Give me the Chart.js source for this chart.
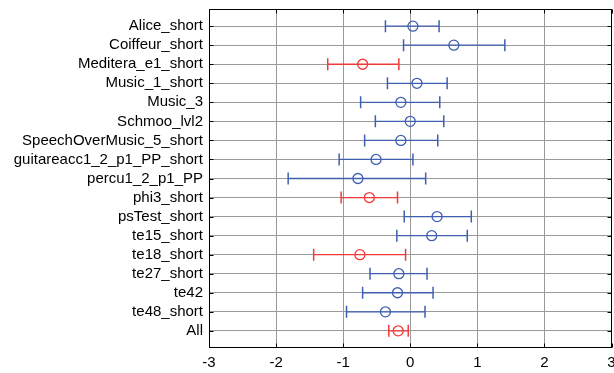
<!DOCTYPE html>
<html>
<head>
<meta charset="utf-8">
<script src="https://cdn.jsdelivr.net/npm/chart.js@4/dist/chart.umd.min.js"></script>
<style>
  html, body { margin: 0; padding: 0; background: #fff; overflow: hidden; }
  #wrap { width: 614px; height: 373px; overflow: hidden; }
</style>
</head>
<body>
<div id="wrap"><canvas id="errChart" width="619" height="373"></canvas></div>
<script>
const labels = ["Alice_short", "Coiffeur_short", "Meditera_e1_short", "Music_1_short", "Music_3",
  "Schmoo_lvl2", "SpeechOverMusic_5_short", "guitareacc1_2_p1_PP_short", "percu1_2_p1_PP",
  "phi3_short", "psTest_short", "te15_short", "te18_short", "te27_short", "te42", "te48_short", "All"];
const means = [0.04, 0.65, -0.71, 0.10, -0.14, 0.00, -0.14, -0.51, -0.78, -0.61, 0.40, 0.32, -0.75, -0.17, -0.19, -0.37, -0.18];
const lower = [-0.37, -0.10, -1.23, -0.34, -0.74, -0.52, -0.68, -1.06, -1.82, -1.03, -0.09, -0.20, -1.44, -0.60, -0.71, -0.95, -0.32];
const upper = [0.43, 1.41, -0.17, 0.55, 0.44, 0.50, 0.41, 0.04, 0.23, -0.19, 0.91, 0.85, -0.07, 0.25, 0.34, 0.22, -0.03];
const flagged = [false, false, true, false, false, false, false, false, false, true, false, false, true, false, false, false, true];
const xTicks = [-3, -2, -1, 0, 1, 2, 3];

const BLUE = "#3f5fb0";
const RED = "#f03a3a";
const FONT = { family: "'Liberation Sans', Arial, sans-serif", size: 15 };

const datasets = [];
labels.forEach((name, i) => {
  const col = flagged[i] ? RED : BLUE;
  // interval line, caps drawn as rotated "line" points
  datasets.push({
    type: "line",
    data: [{ x: lower[i], y: i + 1 }, { x: upper[i], y: i + 1 }],
    borderColor: col,
    borderWidth: 1.3,
    pointStyle: "line",
    rotation: 90,
    pointRadius: 6,
    pointBorderColor: col,
    pointBorderWidth: 1.5,
    fill: false,
  });
  datasets.push({
    type: "scatter",
    data: [{ x: means[i], y: i + 1 }],
    pointStyle: "circle",
    pointRadius: 5,
    pointBorderColor: col,
    pointBackgroundColor: "rgba(0,0,0,0)",
    pointBorderWidth: 1.3,
  });
});

// box with inward ticks, MATLAB style
const boxPlugin = {
  id: "box",
  afterDatasetsDraw(chart) {
    const { ctx, chartArea: a, scales } = chart;
    const L = Math.round(a.left) + 0.5, R = Math.round(a.right) - 0.5;
    const T = Math.round(a.top) + 0.5, B = Math.round(a.bottom) - 0.5;
    ctx.save();
    ctx.strokeStyle = "#000";
    ctx.lineWidth = 1;
    ctx.beginPath();
    scales.y.ticks.forEach((t) => {
      const p = Math.round(scales.y.getPixelForValue(t.value)) + 0.5;
      ctx.moveTo(L, p); ctx.lineTo(L + 4, p);
      ctx.moveTo(R, p); ctx.lineTo(R - 4, p);
    });
    scales.x.ticks.forEach((t) => {
      const p = Math.round(scales.x.getPixelForValue(t.value)) + 0.5;
      ctx.moveTo(p, B); ctx.lineTo(p, B - 4);
      ctx.moveTo(p, T); ctx.lineTo(p, T + 4);
    });
    ctx.stroke();
    ctx.strokeRect(L, T, R - L, B - T);
    ctx.restore();
  },
};

new Chart(document.getElementById("errChart"), {
  data: { datasets: datasets },
  plugins: [boxPlugin],
  options: {
    responsive: false,
    animation: false,
    layout: { padding: { top: 9, right: 0, left: 0, bottom: 0 } },
    plugins: { legend: { display: false }, tooltip: { enabled: false } },
    scales: {
      x: {
        type: "linear",
        min: -3,
        max: 3,
        afterBuildTicks: (s) => { s.ticks = xTicks.map((v) => ({ value: v })); },
        afterFit: (s) => { s.height = 25; s.paddingLeft = 0; s.paddingRight = 0; },
        grid: { color: "#9a9a9a", borderDash: [2, 1], tickLength: 0 },
        border: { display: false },
        ticks: { color: "#000", font: FONT, padding: 6, maxRotation: 0 },
      },
      y: {
        type: "linear",
        reverse: true,
        min: 0.1,
        max: 17.9,
        afterBuildTicks: (s) => { s.ticks = labels.map((_, i) => ({ value: i + 1 })); },
        afterFit: (s) => { s.width = 209; s.paddingTop = 0; s.paddingBottom = 0; },
        grid: { color: "#9a9a9a", borderDash: [2, 1], tickLength: 0 },
        border: { display: false },
        ticks: {
          color: "#000",
          font: FONT,
          padding: 6,
          autoSkip: false,
          callback: (v) => labels[v - 1],
        },
      },
    },
  },
});
</script>
</body>
</html>
